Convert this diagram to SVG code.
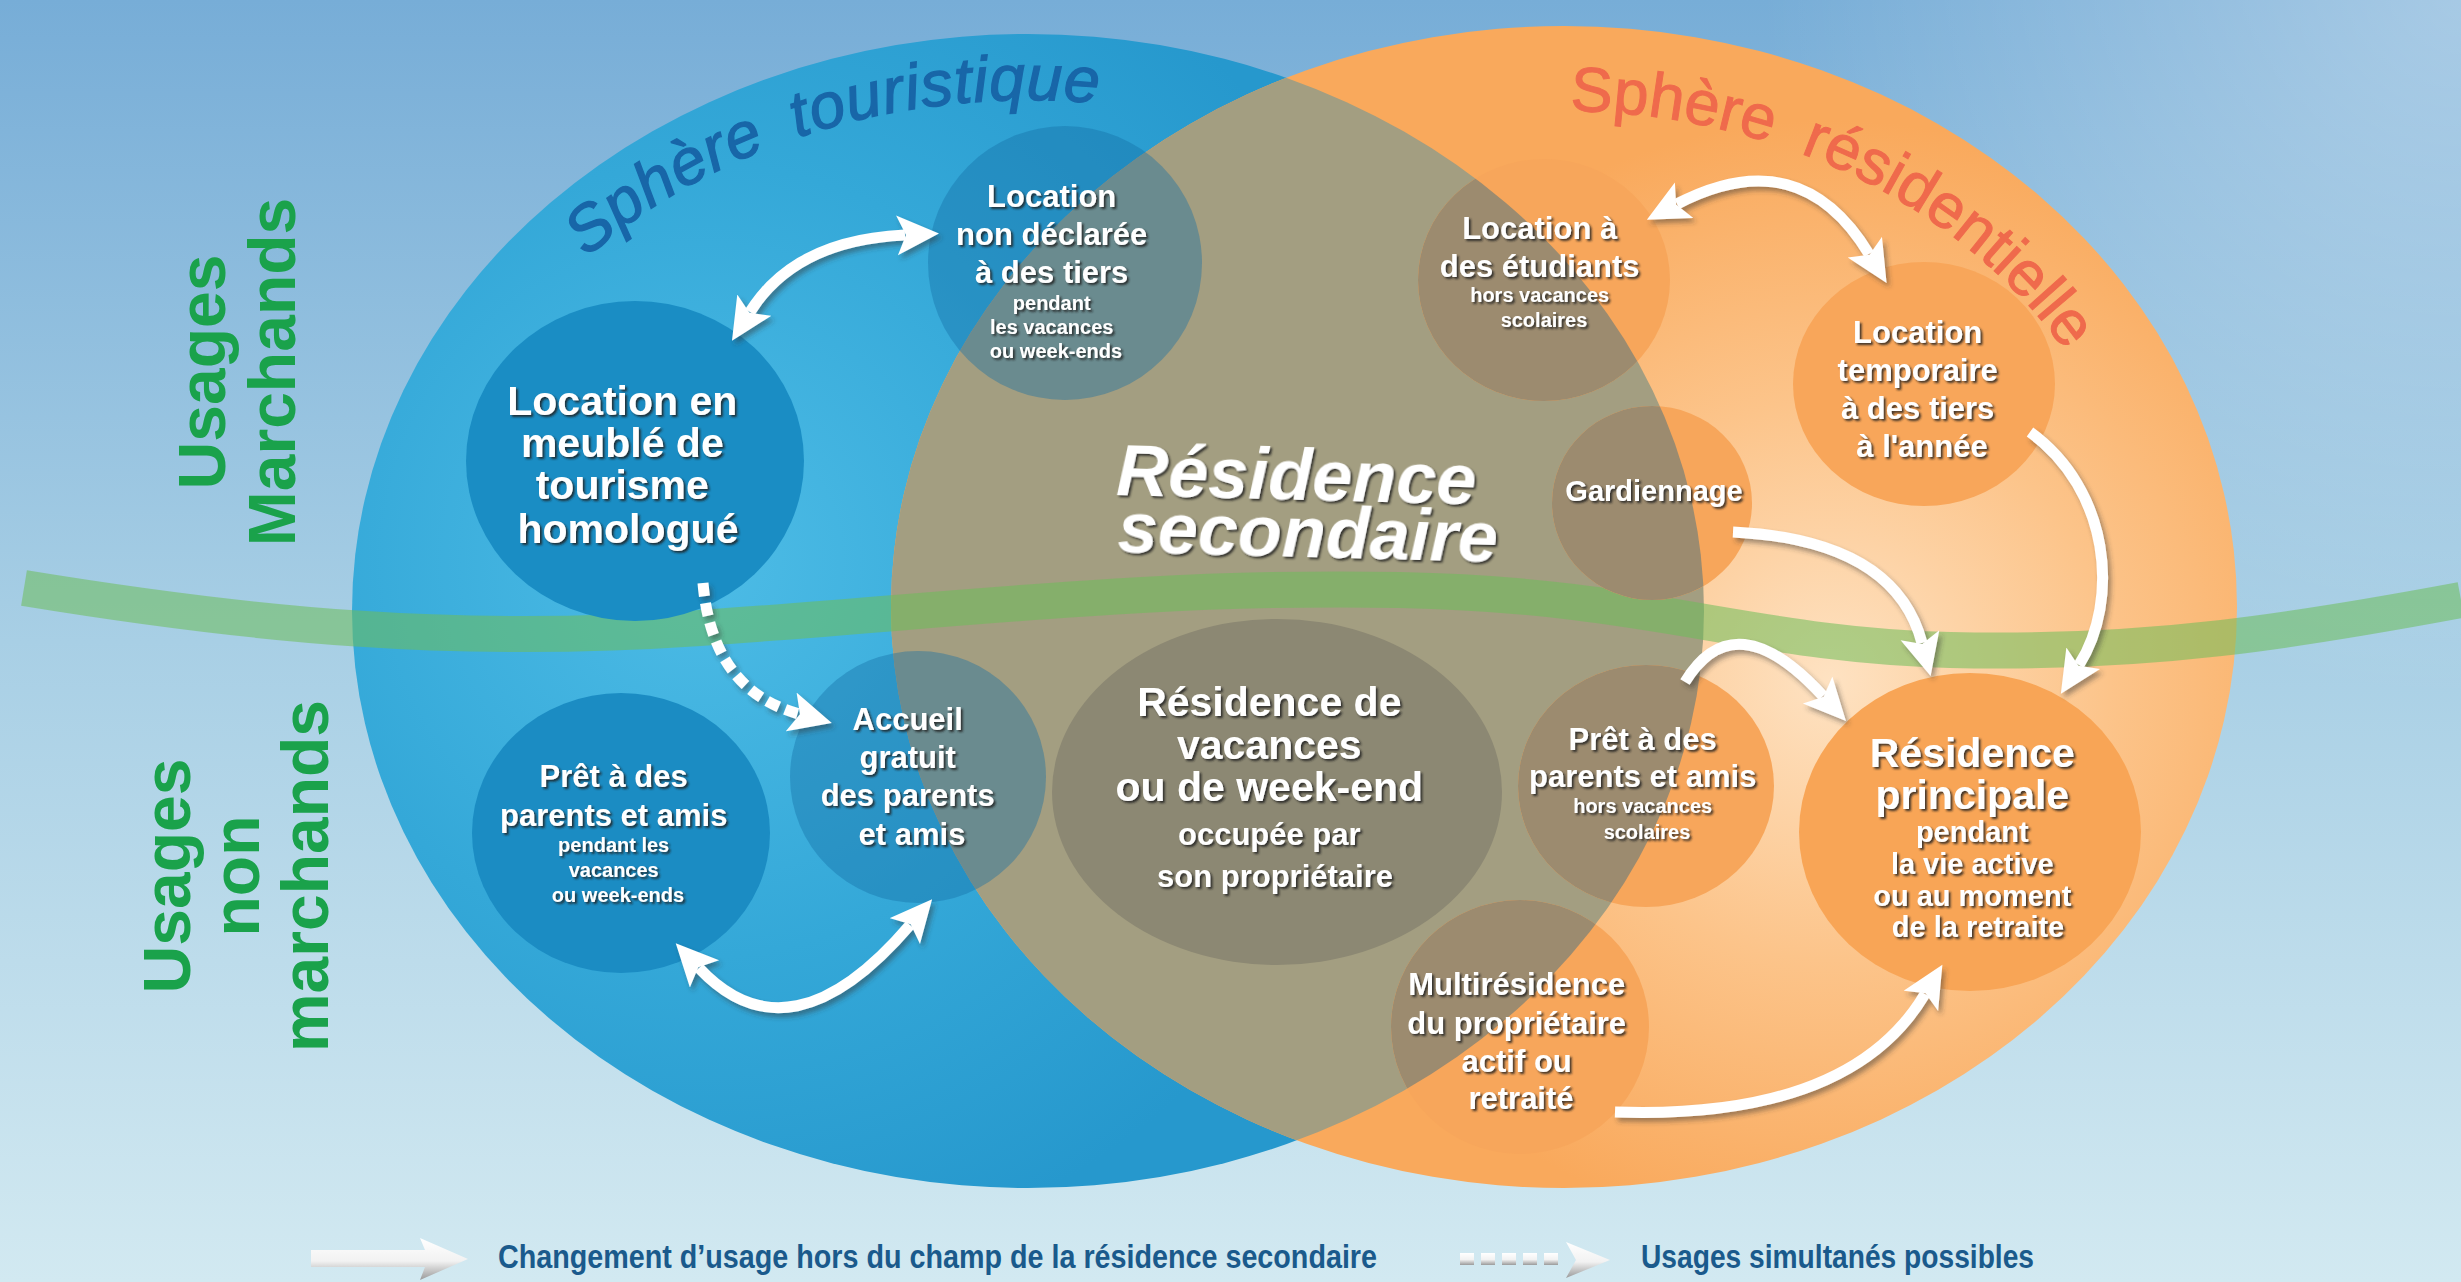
<svg xmlns="http://www.w3.org/2000/svg" width="2461" height="1282" viewBox="0 0 2461 1282">
<defs>
  <style>
    .t{font-family:'Liberation Sans',Arial,sans-serif;font-weight:bold;fill:#fff;text-anchor:middle}
    .f42{font-size:41px}.f32{font-size:31px}.f30{font-size:29px}.f29{font-size:29px}.f21{font-size:20px}
    .side{font-family:'Liberation Sans',Arial,sans-serif;font-weight:bold;font-size:66px;fill:#1aa24b;text-anchor:middle}
    .leg{font-family:'Liberation Sans',Arial,sans-serif;font-weight:bold;font-size:33px;fill:#1a5a8c}
    .arrow{fill:none;stroke:#fff;stroke-width:11;stroke-linecap:butt}
    .tour{font-family:'Liberation Sans',Arial,sans-serif;font-style:italic;font-size:64px;fill:#1866a8;stroke:#1866a8;stroke-width:1.3px;letter-spacing:1px}
    .resi{font-family:'Liberation Sans',Arial,sans-serif;font-size:63px;fill:#ef6a4c;stroke:#ef6a4c;stroke-width:1px}
    .mix{fill:rgba(20,110,165,0.4)}
    .org{fill:#f7a65b}
    .brn{fill:#9c8b6f}
  </style>
  <linearGradient id="bg" x1="0" y1="0" x2="0" y2="1">
    <stop offset="0" stop-color="#77add7"/>
    <stop offset="0.5" stop-color="#a8cfe5"/>
    <stop offset="1" stop-color="#d2e9f1"/>
  </linearGradient>
  <radialGradient id="sun" cx="2461" cy="0" r="700" gradientUnits="userSpaceOnUse">
    <stop offset="0" stop-color="#fff" stop-opacity="0.35"/>
    <stop offset="1" stop-color="#fff" stop-opacity="0"/>
  </radialGradient>
  <radialGradient id="blueFill" cx="700" cy="560" r="720" gradientUnits="userSpaceOnUse">
    <stop offset="0" stop-color="#4dbce6"/>
    <stop offset="0.55" stop-color="#34a8d8"/>
    <stop offset="1" stop-color="#2698cd"/>
  </radialGradient>
  <radialGradient id="orangeFill" cx="1830" cy="680" r="560" gradientUnits="userSpaceOnUse">
    <stop offset="0" stop-color="#fee2c2"/>
    <stop offset="0.5" stop-color="#fcc48a"/>
    <stop offset="1" stop-color="#f9a95c"/>
  </radialGradient>
  <linearGradient id="legArrow" x1="0" y1="0" x2="0" y2="1">
    <stop offset="0" stop-color="#ffffff"/>
    <stop offset="0.55" stop-color="#f2f2f2"/>
    <stop offset="1" stop-color="#9a9a9a"/>
  </linearGradient>
  <clipPath id="clipBlue"><ellipse cx="1028" cy="611" rx="676" ry="577"/></clipPath>
  <marker id="head" markerUnits="userSpaceOnUse" markerWidth="44" markerHeight="42" refX="8" refY="20" orient="auto-start-reverse" viewBox="0 0 44 42">
    <path d="M0,0 L42,20 L0,40 L9,20 z" fill="#fff"/>
  </marker>
  <filter id="shadow" x="-10%" y="-10%" width="120%" height="120%">
    <feDropShadow dx="3" dy="4" stdDeviation="2.5" flood-color="#333" flood-opacity="0.45"/>
  </filter>
  <filter id="tshadow" x="-10%" y="-10%" width="120%" height="130%">
    <feDropShadow dx="2" dy="2" stdDeviation="1" flood-color="#222" flood-opacity="0.85"/>
  </filter>
  <path id="arcBlue" d="M 417 611 A 611 511 0 0 1 1639 611" fill="none"/>
  <path id="arcOr" d="M 1564 111 A 585 496 0 0 1 2149 607" fill="none"/>
</defs>

<!-- background -->
<rect x="0" y="0" width="2461" height="1282" fill="url(#bg)"/>
<rect x="0" y="0" width="2461" height="1282" fill="url(#sun)"/>

<!-- spheres -->
<g id="sphere-touristique">
  <ellipse cx="1028" cy="611" rx="676" ry="577" fill="url(#blueFill)"/>
</g>
<g id="sphere-residentielle">
  <ellipse cx="1564" cy="607" rx="673" ry="581" fill="url(#orangeFill)"/>
</g>
<g id="overlap" clip-path="url(#clipBlue)">
  <ellipse cx="1564" cy="607" rx="673" ry="581" fill="#a39e81"/>
</g>

<!-- green band -->
<path id="band" d="M 24 588 C 250 625, 450 645, 700 628 S 1150 585, 1400 590 S 1750 645, 1950 650 S 2300 630, 2461 600" fill="none" stroke="rgba(110,190,90,0.55)" stroke-width="36"/>

<!-- nodes -->
<g id="n-meuble">
  <ellipse cx="635" cy="461" rx="169" ry="160" fill="#1a8dc4"/>
  <text class="t f42" filter="url(#tshadow)">
    <tspan x="628" y="415">Location en</tspan>
    <tspan x="628" y="457">meublé de</tspan>
    <tspan x="628" y="499">tourisme</tspan>
    <tspan x="628" y="543">homologué</tspan>
  </text>
</g>
<g id="n-nondeclaree">
  <circle cx="1065" cy="263" r="137" class="mix"/>
  <text class="t f32" filter="url(#tshadow)">
    <tspan x="1056" y="207">Location</tspan>
    <tspan x="1056" y="245">non déclarée</tspan>
    <tspan x="1056" y="283">à des tiers</tspan>
    <tspan class="f21" x="1056" y="310">pendant</tspan>
    <tspan class="f21" x="1056" y="334">les vacances</tspan>
    <tspan class="f21" x="1056" y="358">ou week-ends</tspan>
  </text>
</g>
<g id="n-pret-gauche">
  <ellipse cx="621" cy="833" rx="149" ry="140" fill="#1b8cc3"/>
  <text class="t f32" filter="url(#tshadow)">
    <tspan x="618" y="787">Prêt à des</tspan>
    <tspan x="618" y="826">parents et amis</tspan>
    <tspan class="f21" x="618" y="852">pendant les</tspan>
    <tspan class="f21" x="618" y="877">vacances</tspan>
    <tspan class="f21" x="618" y="902">ou week-ends</tspan>
  </text>
</g>
<g id="n-accueil">
  <ellipse cx="918" cy="777" rx="128" ry="126" class="mix"/>
  <text class="t f32" filter="url(#tshadow)">
    <tspan x="912" y="730">Accueil</tspan>
    <tspan x="912" y="768">gratuit</tspan>
    <tspan x="912" y="806">des parents</tspan>
    <tspan x="912" y="845">et amis</tspan>
  </text>
</g>
<g id="n-vacances">
  <ellipse cx="1277" cy="792" rx="225" ry="173" fill="#8c8873"/>
  <text class="t f42" filter="url(#tshadow)">
    <tspan x="1275" y="716">Résidence de</tspan>
    <tspan x="1275" y="759">vacances</tspan>
    <tspan x="1275" y="801">ou de week-end</tspan>
    <tspan class="f32" x="1275" y="845">occupée par</tspan>
    <tspan class="f32" x="1275" y="887">son propriétaire</tspan>
  </text>
</g>
<g id="n-secondaire" transform="rotate(1.5 1306 528)">
  <text class="t" style="font-size:72px;font-style:italic" filter="url(#tshadow)">
    <tspan x="1305" y="500">Résidence</tspan>
    <tspan x="1308" y="557">secondaire</tspan>
  </text>
</g>
<g id="n-etudiants">
  <ellipse cx="1544" cy="280" rx="126" ry="121" class="org"/>
  <ellipse cx="1544" cy="280" rx="126" ry="121" class="brn" clip-path="url(#clipBlue)"/>
  <text class="t f32" filter="url(#tshadow)">
    <tspan x="1544" y="239">Location à</tspan>
    <tspan x="1544" y="277">des étudiants</tspan>
    <tspan class="f21" x="1544" y="302">hors vacances</tspan>
    <tspan class="f21" x="1544" y="327">scolaires</tspan>
  </text>
</g>
<g id="n-temporaire">
  <ellipse cx="1924" cy="384" rx="131" ry="122" fill="#f8a65a"/>
  <text class="t f32" filter="url(#tshadow)">
    <tspan x="1922" y="343">Location</tspan>
    <tspan x="1922" y="381">temporaire</tspan>
    <tspan x="1922" y="419">à des tiers</tspan>
    <tspan x="1922" y="457">à l'année</tspan>
  </text>
</g>
<g id="n-gardiennage">
  <ellipse cx="1652" cy="503" rx="100" ry="97" class="org"/>
  <ellipse cx="1652" cy="503" rx="100" ry="97" class="brn" clip-path="url(#clipBlue)"/>
  <text class="t f29" filter="url(#tshadow)" x="1654" y="501">Gardiennage</text>
</g>
<g id="n-pret-droite">
  <ellipse cx="1646" cy="786" rx="128" ry="121" class="org"/>
  <ellipse cx="1646" cy="786" rx="128" ry="121" class="brn" clip-path="url(#clipBlue)"/>
  <text class="t f32" filter="url(#tshadow)">
    <tspan x="1647" y="750">Prêt à des</tspan>
    <tspan x="1647" y="787">parents et amis</tspan>
    <tspan class="f21" x="1647" y="813">hors vacances</tspan>
    <tspan class="f21" x="1647" y="839">scolaires</tspan>
  </text>
</g>
<g id="n-principale">
  <ellipse cx="1970" cy="832" rx="171" ry="159" fill="#f8a556"/>
  <text class="t f42" filter="url(#tshadow)">
    <tspan x="1978" y="767">Résidence</tspan>
    <tspan x="1978" y="809">principale</tspan>
    <tspan class="f30" x="1978" y="842">pendant</tspan>
    <tspan class="f30" x="1978" y="874">la vie active</tspan>
    <tspan class="f30" x="1978" y="906">ou au moment</tspan>
    <tspan class="f30" x="1978" y="937">de la retraite</tspan>
  </text>
</g>
<g id="n-multi">
  <ellipse cx="1520" cy="1027" rx="129" ry="127" class="org"/>
  <ellipse cx="1520" cy="1027" rx="129" ry="127" class="brn" clip-path="url(#clipBlue)"/>
  <text class="t f32" filter="url(#tshadow)">
    <tspan x="1521" y="995">Multirésidence</tspan>
    <tspan x="1521" y="1034">du propriétaire</tspan>
    <tspan x="1521" y="1072">actif ou</tspan>
    <tspan x="1521" y="1109">retraité</tspan>
  </text>
</g>

<!-- connectors -->
<g id="connectors" filter="url(#shadow)">
  <path class="arrow" d="M 750 312 Q 795 240 905 235" marker-start="url(#head)" marker-end="url(#head)"/>
  <path class="arrow" d="M 703 583 Q 712 690 799 714" stroke-dasharray="13 7" marker-end="url(#head)"/>
  <path class="arrow" d="M 699 968 Q 790 1065 910 925" marker-start="url(#head)" marker-end="url(#head)"/>
  <path class="arrow" d="M 1677 204 Q 1800 140 1869 254" marker-start="url(#head)" marker-end="url(#head)"/>
  <path class="arrow" d="M 2030 432 C 2110 490 2120 600 2079 665" marker-end="url(#head)"/>
  <path class="arrow" d="M 1733 532 Q 1895 540 1922 643" marker-end="url(#head)"/>
  <path class="arrow" d="M 1685 682 Q 1735 600 1823 696" marker-end="url(#head)"/>
  <path class="arrow" d="M 1615 1112 Q 1850 1120 1925 994" marker-end="url(#head)"/>
</g>

<!-- sphere titles -->
<g id="titre-touristique">
  <text class="tour"><textPath href="#arcBlue" startOffset="404">Sphère</textPath></text>
  <text class="tour"><textPath href="#arcBlue" startOffset="648">touristique</textPath></text>
</g>
<g id="titre-residentielle">
  <text class="resi"><textPath href="#arcOr" startOffset="6">Sphère</textPath></text>
  <text class="resi"><textPath href="#arcOr" startOffset="241">résidentielle</textPath></text>
</g>

<!-- side labels -->
<g id="usages-marchands">
  <text class="side" transform="translate(225 372) rotate(-90)">Usages</text>
  <text class="side" transform="translate(295 372) rotate(-90)">Marchands</text>
</g>
<g id="usages-non-marchands">
  <text class="side" transform="translate(190 876) rotate(-90)">Usages</text>
  <text class="side" transform="translate(259 876) rotate(-90)">non</text>
  <text class="side" transform="translate(328 876) rotate(-90)">marchands</text>
</g>

<!-- legend -->
<g id="legend">
  <polygon points="311,1250 425,1250 420,1238 468,1259 420,1280 425,1267 311,1267" fill="url(#legArrow)"/>
  <text class="leg" x="498" y="1268" textLength="879" lengthAdjust="spacingAndGlyphs">Changement d’usage hors du champ de la résidence secondaire</text>
  <g fill="url(#legArrow)">
    <rect x="1460" y="1253" width="14" height="12"/>
    <rect x="1481" y="1253" width="14" height="12"/>
    <rect x="1502" y="1253" width="14" height="12"/>
    <rect x="1523" y="1253" width="14" height="12"/>
    <rect x="1544" y="1253" width="14" height="12"/>
    <polygon points="1566,1242 1610,1260 1566,1278 1576,1260"/>
  </g>
  <text class="leg" x="1641" y="1268" textLength="393" lengthAdjust="spacingAndGlyphs">Usages simultanés possibles</text>
</g>
</svg>
